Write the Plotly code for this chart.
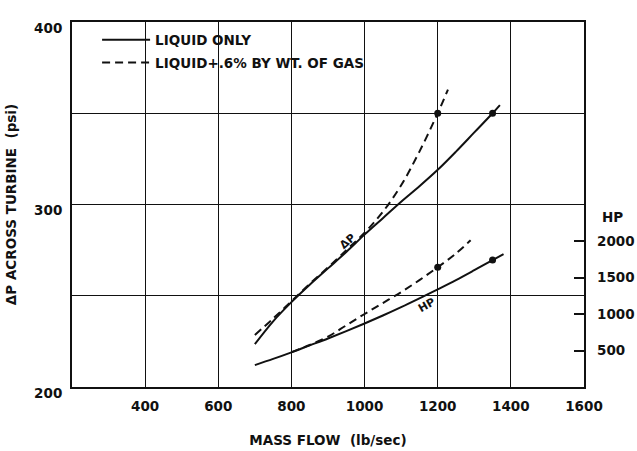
import plotly.graph_objects as go

# ---- data ----
flow_dp_liq = [700, 750, 800, 850, 900, 950, 1000, 1050, 1100, 1150, 1200, 1250, 1300, 1350, 1370]
dp_liq = [223.5, 236, 246.5, 256, 265, 274, 283.5, 292.5, 301.5, 310, 319, 329, 339.5, 350, 354.5]

flow_dp_gas = [700, 750, 800, 850, 900, 950, 1000, 1050, 1100, 1150, 1200, 1228]
dp_gas = [228.5, 237.5, 247, 256.5, 265.5, 275, 284.5, 296, 310.5, 329, 350, 363]

flow_hp_liq = [700, 750, 800, 850, 900, 950, 1000, 1050, 1100, 1150, 1200, 1250, 1300, 1350, 1380]
hp_liq = [300, 385, 475, 570, 665, 765, 870, 980, 1095, 1215, 1338, 1465, 1600, 1738, 1820]

flow_hp_gas = [800, 850, 900, 950, 1000, 1050, 1100, 1150, 1200, 1250, 1290]
hp_gas = [478, 575, 690, 845, 1000, 1150, 1300, 1465, 1640, 1830, 2010]

dot_dp_x = [1350, 1200]
dot_dp_y = [350, 350]
dot_hp_x = [1350, 1200]
dot_hp_y = [1740, 1640]

x_ticks = [200, 400, 600, 800, 1000, 1200, 1400, 1600]
x_ticktext = ["", "400", "600", "800", "1000", "1200", "1400", "1600"]
y_ticks = [200, 250, 300, 350, 400]
y_ticktext = ["200", "", "300", "", "400"]
hp_ticks = [500, 1000, 1500, 2000]

FONT = "DejaVu Sans, sans-serif"
INK = "#111111"
DASH = "8px,5px"

fig = go.Figure()

fig.add_trace(go.Scatter(x=flow_dp_liq, y=dp_liq, mode="lines", name="LIQUID ONLY",
                         line=dict(color=INK, width=2, shape="spline"), legendgroup="a"))
fig.add_trace(go.Scatter(x=flow_dp_gas, y=dp_gas, mode="lines", name="LIQUID+.6% BY WT. OF GAS",
                         line=dict(color=INK, width=2, dash=DASH, shape="spline"), legendgroup="b"))
fig.add_trace(go.Scatter(x=flow_hp_liq, y=hp_liq, mode="lines", yaxis="y2", showlegend=False,
                         line=dict(color=INK, width=2, shape="spline")))
fig.add_trace(go.Scatter(x=flow_hp_gas, y=hp_gas, mode="lines", yaxis="y2", showlegend=False,
                         line=dict(color=INK, width=2, dash=DASH, shape="spline")))
fig.add_trace(go.Scatter(x=dot_dp_x, y=dot_dp_y, mode="markers", showlegend=False,
                         marker=dict(color=INK, size=7)))
fig.add_trace(go.Scatter(x=dot_hp_x, y=dot_hp_y, mode="markers", yaxis="y2", showlegend=False,
                         marker=dict(color=INK, size=7)))

fig.add_annotation(x=953, y=280, text="ΔP", showarrow=False, textangle=-42,
                   font=dict(family=FONT, size=11, color=INK, weight="bold"), xref="x", yref="y")
fig.add_annotation(x=1168, y=1120, text="HP", showarrow=False, textangle=-30,
                   font=dict(family=FONT, size=11, color=INK, weight="bold"), xref="x", yref="y2")
fig.add_annotation(x=1.056, y=0.466, xref="paper", yref="paper", text="HP", showarrow=False,
                   font=dict(family=FONT, size=13.5, color=INK, weight="bold"),
                   xanchor="center", yanchor="middle")

fig.update_layout(
    width=637, height=451,
    margin=dict(l=72, r=53, t=22, b=64, autoexpand=False),
    paper_bgcolor="white", plot_bgcolor="white",
    font=dict(family=FONT, size=13.5, color=INK, weight="bold"),
    showlegend=True,
    legend=dict(x=0.049, y=0.993, xanchor="left", yanchor="top", bgcolor="rgba(0,0,0,0)",
                font=dict(family=FONT, size=13.5, color=INK, weight="bold"),
                itemwidth=48, tracegroupgap=2),
    xaxis=dict(range=[200, 1600], tickvals=x_ticks, ticktext=x_ticktext, automargin=False,
               showgrid=True, gridcolor=INK, gridwidth=1, zeroline=False,
               showline=True, linecolor=INK, linewidth=2, mirror=True, ticks="",
               ticklabelstandoff=6,
               title=dict(text="MASS FLOW  (lb/sec)", font=dict(size=13.5), standoff=22)),
    yaxis=dict(range=[200, 400], tickvals=y_ticks, ticktext=y_ticktext, automargin=False,
               showgrid=True, gridcolor=INK, gridwidth=1, zeroline=False,
               showline=True, linecolor=INK, linewidth=2, mirror=True, ticks="",
               ticklabelstandoff=5, ticklabelshift=6,
               title=dict(text="ΔP ACROSS TURBINE  (psi)", font=dict(size=13.5), standoff=14)),
    yaxis2=dict(range=[0, 5000], overlaying="y", side="right", tickvals=hp_ticks, automargin=False,
                showgrid=False, zeroline=False, showline=False, ticks="inside", ticklen=10,
                tickcolor=INK, tickwidth=2, ticklabelstandoff=12),
)

fig.write_html("out.html")
